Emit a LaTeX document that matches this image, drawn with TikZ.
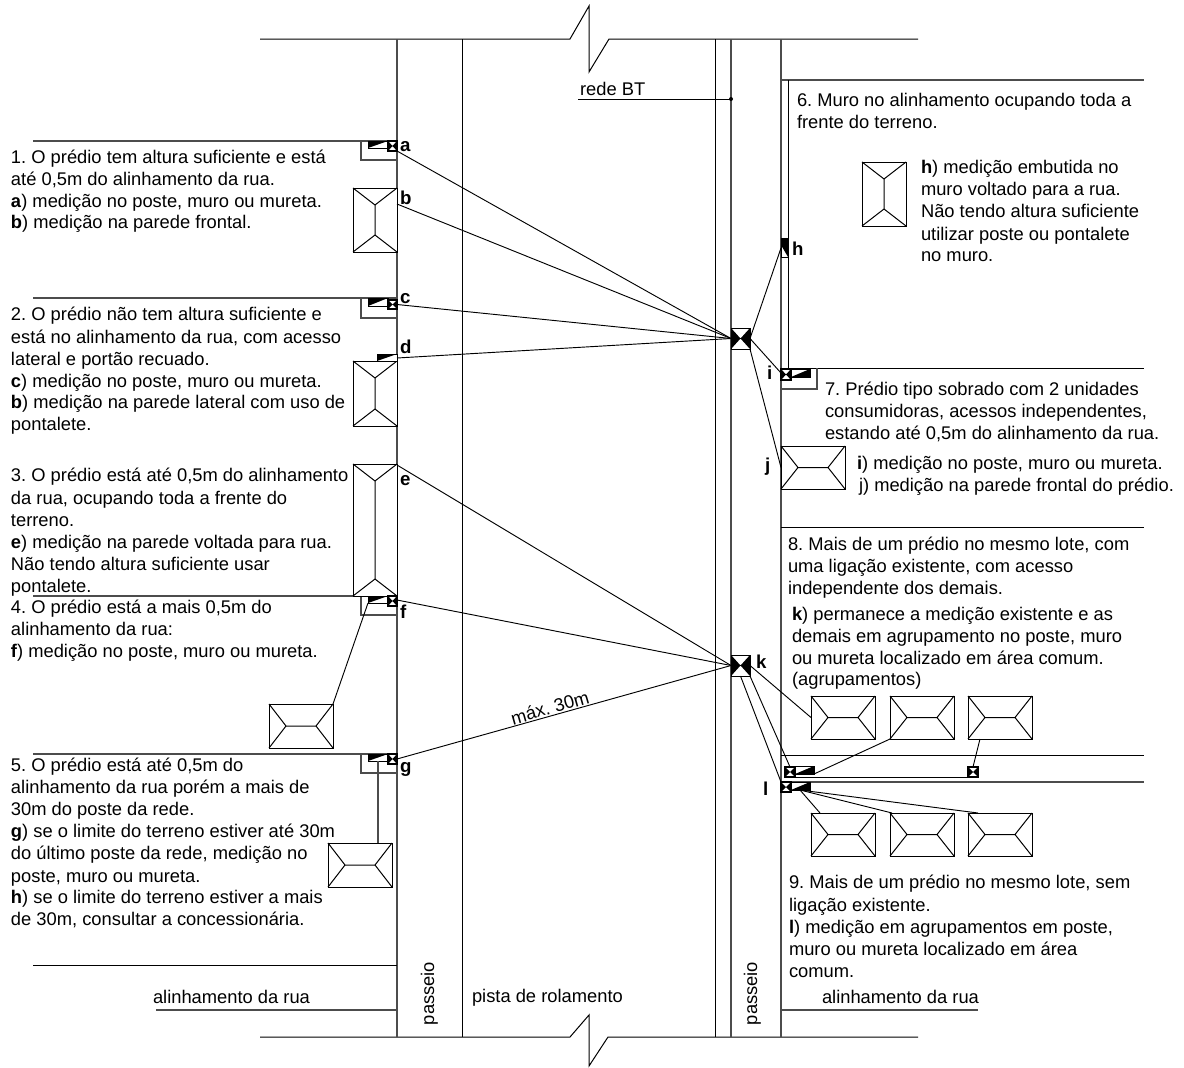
\documentclass[tikz,border=0pt]{standalone}
\usepackage{fontspec}
\setmainfont{Liberation Sans}
\frenchspacing
\definecolor{gl}{gray}{0.30}
\tikzset{
  px/.style={x=0.75pt,y=-0.75pt},
  ln/.style={draw=black,line width=0.75pt},
  road/.style={draw=gl,line width=0.85pt},
  wire/.style={draw=black,line width=0.7pt},
  boxn/.style={draw=black,line width=0.75pt,inner sep=0pt,outer sep=0pt,fill=white},
  boxs/.style={boxn,line width=1.1pt},
  txt/.style={inner sep=0pt,outer sep=0pt,anchor=base west,font=\fontsize{13.75}{16}\selectfont},
  lab/.style={inner sep=0pt,outer sep=0pt,anchor=base west,font=\fontsize{14}{16}\selectfont\bfseries},
}
% house seen from above: name, left, top, right, bottom
\newcommand\hh[5]{% landscape
  \node[boxn,minimum width={(#4-#2)*0.75pt},minimum height={(#5-#3)*0.75pt}] (#1) at ({(#2+#4)/2},{(#3+#5)/2}) {};
  \draw[ln] (#1.north west) -- ({#2+17},{(#3+#5)/2}) -- (#1.south west)
            ({#2+17},{(#3+#5)/2}) -- ({#4-17},{(#3+#5)/2})
            (#1.north east) -- ({#4-17},{(#3+#5)/2}) -- (#1.south east);}
\newcommand\hv[5]{% portrait
  \node[boxn,minimum width={(#4-#2)*0.75pt},minimum height={(#5-#3)*0.75pt}] (#1) at ({(#2+#4)/2},{(#3+#5)/2}) {};
  \draw[ln] (#1.north west) -- ({(#2+#4)/2},{#3+17}) -- (#1.north east)
            ({(#2+#4)/2},{#3+17}) -- ({(#2+#4)/2},{#5-17})
            (#1.south west) -- ({(#2+#4)/2},{#5-17}) -- (#1.south east);}
% bow-tie box (poles)
\newcommand\bw[5]{%
  \node[boxn,minimum width={(#4-#2)*0.75pt},minimum height={(#5-#3)*0.75pt}] (#1) at ({(#2+#4)/2},{(#3+#5)/2}) {};
  \fill[black] (#1.north west) -- (#1.center) -- (#1.north east) -- (#1.south east) -- (#1.center) -- (#1.south west) -- cycle;}
% small bow-tie box (meters)
\newcommand\bs[5]{%
  \node[boxs,minimum width={(#4-#2)*0.75pt},minimum height={(#5-#3)*0.75pt}] (#1) at ({(#2+#4)/2},{(#3+#5)/2}) {};
  \fill[black] (#1.north west) -- (#1.center) -- (#1.north east) -- (#1.south east) -- (#1.center) -- (#1.south west) -- cycle;}
% meter rectangle, black upper left
\newcommand\mul[5]{%
  \node[boxn,minimum width={(#4-#2)*0.75pt},minimum height={(#5-#3)*0.75pt}] (#1) at ({(#2+#4)/2},{(#3+#5)/2}) {};
  \fill[black] (#1.north west) -- (#1.north east) -- (#1.south west) -- cycle;}
% meter rectangle, black lower right
\newcommand\mlr[5]{%
  \node[boxn,minimum width={(#4-#2)*0.75pt},minimum height={(#5-#3)*0.75pt}] (#1) at ({(#2+#4)/2},{(#3+#5)/2}) {};
  \fill[black] (#1.north east) -- (#1.south east) -- (#1.south west) -- cycle;}
\newcommand\tl[4]{\node[txt] (#1) at (#2,#3) {#4};}
\newcommand\lb[4]{\node[lab] (#1) at (#2,#3) {#4};}
\begin{document}
\begin{tikzpicture}[px]
\useasboundingbox (0,0) rectangle (1184,1067);
\fill[white] (0,0) rectangle (1184,1067);
% road
\coordinate (tl) at (260,39); \coordinate (tr) at (918,39);
\coordinate (bl) at (260,1037); \coordinate (br) at (918,1037);
\draw[ln] (tl) -- (570,39) -- (589,6) -- (589,72) -- (609,39) -- (tr);
\draw[ln] (bl) -- (570,1037) -- (589,1015) -- (589,1066) -- (608,1037) -- (br);
\draw[road] (397,39) -- (397,1037);
\draw[ln] (462,39) -- (462,1037);
\draw[ln] (715,39) -- (715,1037);
\draw[road] (731,39) -- (731,1037);
\draw[road] (781,39) -- (781,1037);
% lot lines
\draw[road] (33,141) -- (397,141);
\draw[road] (33,298) -- (397,298);
\draw[road] (33,596) -- (397,596);
\draw[road] (33,754) -- (397,754);
\draw[ln] (33,965) -- (397,965);
\draw[road] (156,1010) -- (397,1010);
\draw[road] (781,80) -- (1144,80);
\draw[ln] (781,368) -- (1144,368);
\draw[ln] (781,527) -- (1144,527);
\draw[ln] (781,755) -- (1144,755);
\draw[road] (781,782) -- (1144,782);
\draw[road] (781,1010) -- (978,1010);
\draw[ln] (788,80) -- (788,368);
% rede BT
\coordinate (rbL) at (578,99); \coordinate (rbR) at (731,99);
\draw[ln] (rbL) -- (rbR);
\fill (rbR) circle (2);
\tl{trb}{580}{95}{rede BT}
% low walls
\draw[road] (361,141) -- (361,160) -- (397,160);
\draw[road] (361,298) -- (361,318) -- (397,318);
\draw[road] (361,596) -- (361,615) -- (397,615);
\draw[road] (361,754) -- (361,773) -- (397,773);
\draw[road] (817,368) -- (817,389) -- (781,389);
% houses
\hv{hb}{353}{188}{397}{252}
\hv{hd}{353}{361}{397}{426}
\hv{he}{353}{464}{397}{596}
\hv{hl}{862}{162}{906}{226}
\hh{hf}{269}{704}{333}{748}
\hh{hg}{328}{843}{392}{887}
\hh{hj}{781}{446}{845}{489}
\hh{ha1}{811}{696}{875}{739}
\hh{ha2}{890}{696}{954}{739}
\hh{ha3}{968}{696}{1032}{739}
\hh{hc1}{811}{813}{875}{856}
\hh{hc2}{890}{813}{954}{856}
\hh{hc3}{968}{813}{1032}{856}
% meters
\mul{ra}{368}{141}{388}{148} \bs{sa}{388}{141}{397}{151}
\mul{rc}{368}{298}{388}{306} \bs{sc}{388}{300}{397}{309}
\mul{rd}{377}{354}{397}{361}
\mul{rf}{368}{596}{388}{603} \bs{sf}{388}{596}{397}{606}
\mul{rg}{368}{754}{388}{761} \bs{sg}{388}{754}{397}{764}
\bs{si}{781}{369}{791}{380} \mlr{ri}{791}{369}{810}{377}
\bs{sm1}{785}{767}{795}{777} \mlr{rm1}{795}{766}{814}{774}
\bs{sm2}{968}{767}{978}{777}
\bs{sl}{781}{782}{791}{792} \mlr{rl}{791}{782}{810}{790}
\node[boxn,minimum width=5.25pt,minimum height=14.25pt] (rh) at (784.5,247.5) {};
\fill[black] (rh.north west) -- (rh.north east) -- (rh.south east) -- (781,245) -- cycle;
% poles
\bw{p1}{731}{328}{750}{349}
\bw{p2}{731}{655}{750}{676}
% connectors
\coordinate (eb) at (397,204); \coordinate (ed) at (397,358);
\coordinate (ee) at (397,465); \coordinate (ef) at (397,600);
\coordinate (eh) at (781,248); \coordinate (ei) at (781,373);
\coordinate (ec3) at (978,813); \coordinate (ec2) at (892,813); \coordinate (ec1) at (820,813);
\coordinate (ol) at (800,790);
\coordinate (e3) at (980,739);
\draw[wire] (sa.south east) -- (p1.west);
\draw[wire] (eb) -- (p1.west);
\draw[wire] (sc.east) -- (p1.west);
\draw[wire] (ed) -- (p1.west);
\draw[wire] (ee) -- (p2.west);
\draw[wire] (ef) -- (p2.west);
\draw[wire] (sg.east) -- (p2.west);
\draw[wire] (p1.east) -- (eh);
\draw[wire] (p1.east) -- (ei);
\draw[wire] (p1.south east) -- (hj.west);
\draw[wire] (p2.east) -- (ha1.west);
\draw[wire] (p2.south east) -- (sm1.north);
\draw[wire] (p2.south) -- (sl.north west);
\draw[wire] (ha2.south west) -- (rm1.south east);
\draw[wire] (e3) -- (sm2.north);
\draw[wire] (sm1.south east) -- (sm2.south west);
\draw[wire] (ol) -- (ec1);
\draw[wire] (ol) -- (ec2);
\draw[wire] (ol) -- (ec3);
\draw[wire] (hf.north east) -- (rf.south west);
\draw[road] (378,761) -- (378,843);
% letters
\lb{la}{400}{151}{a}
\lb{lb}{400}{204}{b}
\lb{lc}{400}{303}{c}
\lb{ld}{400}{353}{d}
\lb{le}{400}{485}{e}
\lb{lf}{400}{618}{f}
\lb{lg}{400}{772}{g}
\lb{lh}{792}{255}{h}
\lb{li}{767}{379}{i}
\lb{lj}{765}{471}{j}
\lb{lk}{756}{668}{k}
\lb{ll}{763}{795}{l}
% left texts
\tl{a1}{11}{163}{1. O prédio tem altura suficiente e está}
\tl{a2}{11}{185}{até 0,5m do alinhamento da rua.}
\tl{a3}{11}{207}{\textbf{a}) medição no poste, muro ou mureta.}
\tl{a4}{11}{228}{\textbf{b}) medição na parede frontal.}
\tl{b1}{11}{320}{2. O prédio não tem altura suficiente e}
\tl{b2}{11}{343}{está no alinhamento da rua, com acesso}
\tl{b3}{11}{365}{lateral e portão recuado.}
\tl{b4}{11}{387}{\textbf{c}) medição no poste, muro ou mureta.}
\tl{b5}{11}{408}{\textbf{b}) medição na parede lateral com uso de}
\tl{b6}{11}{430}{pontalete.}
\tl{c1}{11}{481}{3. O prédio está até 0,5m do alinhamento}
\tl{c2}{11}{504}{da rua, ocupando toda a frente do}
\tl{c3}{11}{526}{terreno.}
\tl{c4}{11}{548}{\textbf{e}) medição na parede voltada para rua.}
\tl{c5}{11}{570}{Não tendo altura suficiente usar}
\tl{c6}{11}{592}{pontalete.}
\tl{d1}{11}{613}{4. O prédio está a mais 0,5m do}
\tl{d2}{11}{635}{alinhamento da rua:}
\tl{d3}{11}{657}{\textbf{f}) medição no poste, muro ou mureta.}
\tl{e1}{11}{771}{5. O prédio está até 0,5m do}
\tl{e2}{11}{793}{alinhamento da rua porém a mais de}
\tl{e3t}{11}{815}{30m do poste da rede.}
\tl{e4}{11}{837}{\textbf{g}) se o limite do terreno estiver até 30m}
\tl{e5}{11}{859}{do último poste da rede, medição no}
\tl{e6}{11}{882}{poste, muro ou mureta.}
\tl{e7}{11}{903}{\textbf{h}) se o limite do terreno estiver a mais}
\tl{e8}{11}{925}{de 30m, consultar a concessionária.}
% right texts
\tl{f1}{797}{106}{6. Muro no alinhamento ocupando toda a}
\tl{f2}{797}{128}{frente do terreno.}
\tl{g1}{921}{173}{\textbf{h}) medição embutida no}
\tl{g2}{921}{195}{muro voltado para a rua.}
\tl{g3}{921}{217}{Não tendo altura suficiente}
\tl{g4}{921}{240}{utilizar poste ou pontalete}
\tl{g5}{921}{261}{no muro.}
\tl{h1}{825}{395}{7. Prédio tipo sobrado com 2 unidades}
\tl{h2}{825}{417}{consumidoras, acessos independentes,}
\tl{h3}{825}{439}{estando até 0,5m do alinhamento da rua.}
\tl{h4}{857}{469}{\textbf{i}) medição no poste, muro ou mureta.}
\tl{h5}{859}{491}{j) medição na parede frontal do prédio.}
\tl{i1}{788}{550}{8. Mais de um prédio no mesmo lote, com}
\tl{i2}{788}{572}{uma ligação existente, com acesso}
\tl{i3}{788}{594}{independente dos demais.}
\tl{i4}{792}{620}{\textbf{k}) permanece a medição existente e as}
\tl{i5}{792}{642}{demais em agrupamento no poste, muro}
\tl{i6}{792}{664}{ou mureta localizado em área comum.}
\tl{i7}{792}{685}{(agrupamentos)}
\tl{j1}{789}{888}{9. Mais de um prédio no mesmo lote, sem}
\tl{j2}{789}{911}{ligação existente.}
\tl{j3}{789}{933}{\textbf{l}) medição em agrupamentos em poste,}
\tl{j4}{789}{955}{muro ou mureta localizado em área}
\tl{j5}{789}{977}{comum.}
% street labels
\tl{s1}{153}{1003}{alinhamento da rua}
\tl{s2}{822}{1003}{alinhamento da rua}
\tl{s3}{472}{1002}{pista de rolamento}
\node[txt,rotate=90] (s4) at (434,1025) {passeio};
\node[txt,rotate=90] (s5) at (757,1025) {passeio};
\node[txt,rotate=16] (s6) at (513,725) {máx. 30m};
\end{tikzpicture}
\end{document}
